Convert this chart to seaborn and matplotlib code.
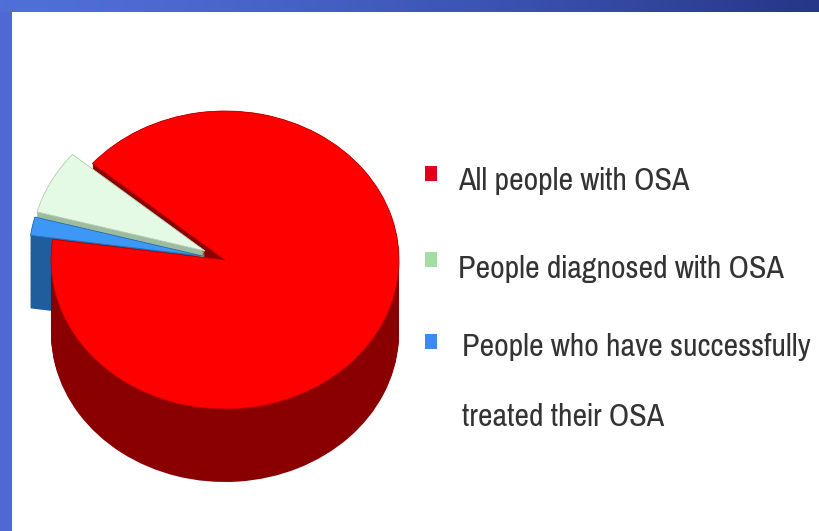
import numpy as np
import matplotlib
matplotlib.use("Agg")
import matplotlib.pyplot as plt
from matplotlib.patches import Rectangle
import seaborn as sns

# Share of people with obstructive sleep apnea, by stage of care
categories = ["All people with OSA",
              "People diagnosed with OSA",
              "People who have successfully\ntreated their OSA"]
shares = [91, 7, 2]
explode = [0.0, 0.13, 0.13]

top_colors = ["#FF0000", "#E4FAE4", "#3D97F5"]
side_colors = ["#8A0000", "#9DBB9D", "#1F5D9C"]
legend_colors = ["#E3001B", "#A3DDA3", "#3D8BF2"]

sns.set_style("white")
plt.rcParams["font.family"] = ["Pragati Narrow", "Archivo Narrow",
                               "Roboto Condensed", "Liberation Sans", "DejaVu Sans"]

W, H = 819, 531
fig = plt.figure(figsize=(W / 100, H / 100), dpi=100)
fig.patch.set_facecolor("white")

# ---- pie drawn as a tilted disc: a stack of dark layers, then the top face
px_left, px_right, px_top, px_bottom = 0, 420, 90, 500
cx, cy = 225, 260          # centre of the top face (pixels from top-left)
rx, ry = 174, 149          # radii of the top ellipse in pixels
depth = 73 / ry            # thickness of the disc in y data units

ax = fig.add_axes([px_left / W, (H - px_bottom) / H,
                   (px_right - px_left) / W, (px_bottom - px_top) / H])
ax.set_axis_off()

for k in np.linspace(depth, 0.0, 60):
    ax.pie(shares, explode=explode, colors=side_colors, startangle=172,
           counterclock=True, center=(0, -k), radius=1.0,
           wedgeprops=dict(linewidth=0, antialiased=True))

ax.pie(shares, explode=explode, colors=top_colors, startangle=172,
       counterclock=True, center=(0, 0), radius=1.0,
       wedgeprops=dict(linewidth=0.6, edgecolor="#B00000"))
# soften the outline of the light and blue slices
for w, c in zip(ax.patches[-3:], ["#C00000", "#B8D0B8", "#2A70B8"]):
    w.set_edgecolor(c)

ax.set_aspect("auto")
ax.set_xlim((px_left - cx) / rx, (px_right - cx) / rx)
ax.set_ylim((cy - px_bottom) / ry, (cy - px_top) / ry)

# ---- legend drawn beside the pie
text_color = "#333333"
legend_rows = [
    (425, 166, 458, [190]),
    (425, 252, 458, [278]),
    (425, 334, 462, [356, 426]),
]
for (sx, sy, tx, baselines), label, col in zip(legend_rows, categories, legend_colors):
    fig.patches.append(Rectangle((sx / W, 1 - (sy + 15) / H), 12 / W, 15 / H,
                                 transform=fig.transFigure, facecolor=col,
                                 edgecolor="none"))
    for line, by in zip(label.split("\n"), baselines):
        fig.text(tx / W, 1 - by / H, line, fontsize=25, color=text_color,
                 ha="left", va="baseline")

# ---- slide frame: gradient band on top, solid band on the left
band = 12
top_ax = fig.add_axes([0, 1 - band / H, 1, band / H])
grad = np.linspace(0, 1, 256)[None, :, None]
c0 = np.array([80, 111, 216]) / 255
c1 = np.array([38, 54, 136]) / 255
ramp = c0 + (c1 - c0) * grad ** 1.4
top_ax.imshow(np.repeat(ramp, 2, axis=0), aspect="auto", extent=(0, 1, 0, 1))
top_ax.set_axis_off()

left_ax = fig.add_axes([0, 0, band / W, 1 - band / H])
left_ax.set_facecolor("#4E69D3")
left_ax.set_xticks([])
left_ax.set_yticks([])
for s in left_ax.spines.values():
    s.set_visible(False)

fig.savefig("out.png", dpi=100, facecolor="white")
